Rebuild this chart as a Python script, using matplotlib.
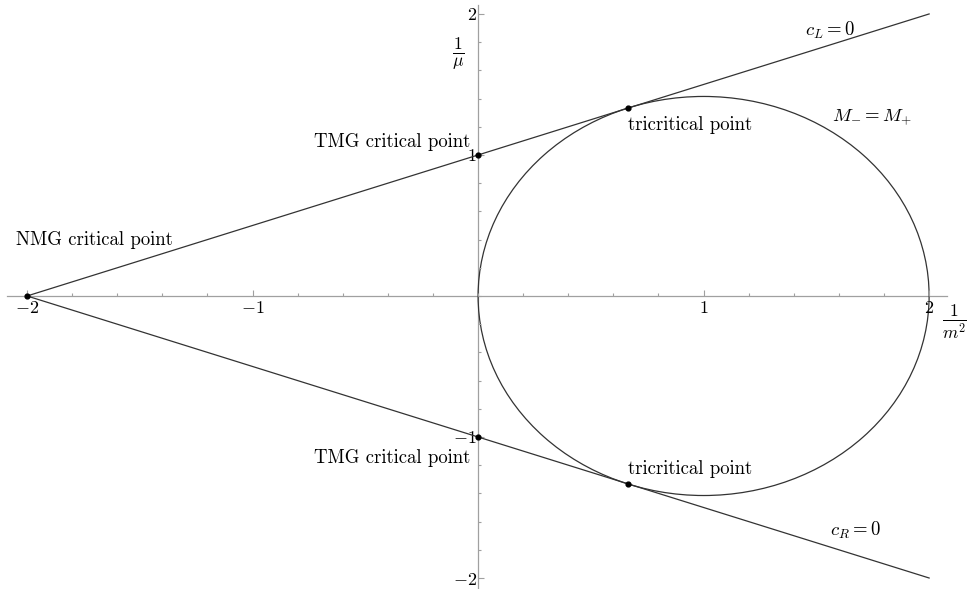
import numpy as np
import matplotlib
matplotlib.use("Agg")
import matplotlib.pyplot as plt
from matplotlib.patches import Ellipse
from matplotlib.ticker import FixedLocator, MultipleLocator

plt.rcParams['mathtext.fontset'] = 'cm'
plt.rcParams['font.family'] = ['cmr10', 'DejaVu Serif']
plt.rcParams['axes.formatter.use_mathtext'] = True

# lines c_L = 0 and c_R = 0
line_x = [-2, 2]
cL_y = [0, 2]
cR_y = [0, -2]

# M_- = M_+ ellipse
ell_center = (1.0, 0.0)
ell_width = 2.0
ell_height = 2.83

# special points
pts_x = [-2, 0, 0, 2/3, 2/3]
pts_y = [0, 1, -1, 4/3, -4/3]

major_ticks = [-2, -1, 1, 2]

fig = plt.figure(figsize=(9.67, 5.89), dpi=100)
ax = fig.add_axes([0, 0, 1, 1])
ax.set_xlim(-2.12, 2.168)
ax.set_ylim(-2.078, 2.099)

axcol = '#a0a0a0'
for s in ['top', 'right']:
    ax.spines[s].set_visible(False)
ax.spines['left'].set_position(('data', 0))
ax.spines['bottom'].set_position(('data', 0))
ax.spines['left'].set_bounds(-2.08, 2.06)
ax.spines['bottom'].set_bounds(-2.09, 2.08)
for s in ['left', 'bottom']:
    ax.spines[s].set_color(axcol)
    ax.spines[s].set_linewidth(0.9)
    ax.spines[s].set_zorder(0)

ax.xaxis.set_major_locator(FixedLocator(major_ticks))
ax.yaxis.set_major_locator(FixedLocator(major_ticks))
ax.xaxis.set_minor_locator(MultipleLocator(0.2))
ax.yaxis.set_minor_locator(MultipleLocator(0.2))
ax.tick_params(which='both', direction='in', color=axcol, width=0.8)
ax.tick_params(which='major', length=4.5, labelsize=13, pad=3)
ax.tick_params(which='minor', length=2.5)
ax.tick_params(axis='y', pad=1)

ax.plot(line_x, cL_y, color='#333333', lw=0.9)
ax.plot(line_x, cR_y, color='#333333', lw=0.9)
ax.add_patch(Ellipse(ell_center, ell_width, ell_height, fill=False,
                     edgecolor='#333333', lw=0.9))
ax.scatter(pts_x, pts_y, s=12, color='black', zorder=5)

fs = 13.5
ax.text(-2.05, 0.40, "NMG critical point", fontsize=fs, ha='left', va='center')
ax.text(-0.035, 1.09, "TMG critical point", fontsize=fs, ha='right', va='center')
ax.text(-0.035, -1.15, "TMG critical point", fontsize=fs, ha='right', va='center')
ax.text(0.665, 1.21, "tricritical point", fontsize=fs, ha='left', va='center')
ax.text(0.665, -1.23, "tricritical point", fontsize=fs, ha='left', va='center')
ax.text(1.45, 1.88, r"$c_L = 0$", fontsize=fs, ha='left', va='center')
ax.text(1.57, 1.27, r"$M_{-} = M_{+}$", fontsize=fs, ha='left', va='center')
ax.text(1.56, -1.66, r"$c_R = 0$", fontsize=fs, ha='left', va='center')

ax.text(2.055, -0.18, r"$\frac{1}{m^2}$", fontsize=18, ha='left', va='center')
ax.text(-0.06, 1.72, r"$\frac{1}{\mu}$", fontsize=18, ha='right', va='center')

fig.savefig("out.png", dpi=100)
